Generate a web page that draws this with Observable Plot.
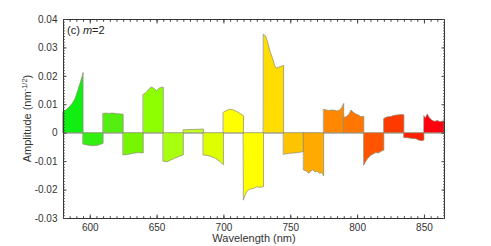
<!DOCTYPE html>
<html><head><meta charset="utf-8">
<script src="https://cdn.jsdelivr.net/npm/d3@7"></script>
<script src="https://cdn.jsdelivr.net/npm/@observablehq/plot@0.6"></script>
<style>
body{margin:0;background:#fff}
svg{font-family:"Liberation Sans",Arial,sans-serif}
</style>
</head><body><div id="chart"></div>
<script>
// Band colours (one per 15 nm band)
const bandColors = ["#11ee11","#33ee11","#55ee11","#77f500","#8eff00","#a8ff10","#c4ff20","#ddff00","#ffff00","#ffff00",
  "#ffdd00","#ffc400","#ffaa00","#ff8800","#ff7700","#ff5500","#ff3a00","#ff2000","#ff0010"];

// Amplitude profiles per band: [wavelength, amplitude]
const band580 = [[580,0.0074],[582,0.0080],[584.5,0.0090],[587,0.0104],[589,0.0120],[591,0.0148],[593,0.0178],[594.5,0.0200],[595,0.0212]];
const band595 = [[595,-0.0040],[598,-0.0043],[602,-0.0046],[606,-0.0044],[610,-0.0037]];
const band610 = [[610,0.0068],[612,0.0069],[614,0.0068],[617,0.0069],[620,0.0067],[623,0.0066],[625,0.0065]];
const band625 = [[625,-0.0078],[628,-0.0077],[632,-0.0073],[636,-0.0070],[639,-0.0071],[640,-0.0071]];
const band640 = [[640,0.0135],[642,0.0141],[644,0.0152],[646,0.0161],[648,0.0156],[650,0.0148],[652,0.0157],[654,0.0160],[655,0.0160]];
const band655 = [[655,-0.0100],[658,-0.0102],[661,-0.0095],[664,-0.0089],[667,-0.0083],[670,-0.0078]];
const band670 = [[670,0.0010],[675,0.0011],[680,0.0012],[685,0.0013]];
const band685 = [[685,-0.0078],[688,-0.0080],[691,-0.0084],[694,-0.0090],[697,-0.0100],[700,-0.0113]];
const band700 = [[700,0.0072],[702,0.0077],[705,0.0083],[708,0.0079],[711,0.0072],[713,0.0066],[715,0.0060]];
const band715 = [[715,-0.0236],[716,-0.0222],[717.5,-0.0207],[719,-0.0200],[721,-0.0197],[723,-0.0195],[725,-0.0190],[727,-0.0192],[730,-0.0190]];
const band730 = [[730,0.0346],[731.5,0.0340],[733,0.0320],[735,0.0284],[736.8,0.0261],[738.3,0.0237],[739.5,0.0227],[741,0.0230],[743,0.0233],[745,0.0237]];
const band745 = [[745,-0.0076],[747,-0.0074],[750,-0.0072],[753,-0.0071],[756,-0.0070],[758,-0.0068],[760,-0.0066]];
const band760 = [[760,-0.0131],[762,-0.0135],[764,-0.0143],[765.5,-0.0134],[767,-0.0130],[768.5,-0.0138],[770,-0.0135],[772,-0.0143],[773.5,-0.0140],[775,-0.0152]];
const band775 = [[775,0.0082],[777,0.0080],[779,0.0078],[781,0.0080],[783,0.0079],[785,0.0076],[787,0.0080],[788.5,0.0088],[790,0.0103]];
const band790 = [[790,0.0054],[792,0.0056],[794,0.0066],[795.5,0.0080],[797,0.0072],[799,0.0066],[801,0.0062],[803,0.0056],[805,0.0058]];
const band805 = [[805,-0.0113],[806.5,-0.0100],[808,-0.0090],[810,-0.0080],[812,-0.0075],[814,-0.0070],[816,-0.0071],[818,-0.0065],[820,-0.0061]];
const band820 = [[820,0.0050],[822,0.0055],[825,0.0057],[828,0.0061],[831,0.0063],[833,0.0064],[835,0.0063]];
const band835 = [[835,-0.0017],[838,-0.0018],[841,-0.0020],[844,-0.0021],[846,-0.0026],[848,-0.0028],[850,-0.0026]];
const band850 = [[850,0.0059],[851,0.0052],[852.5,0.0066],[854,0.0053],[856,0.0044],[858,0.0040],[860,0.0043],[862,0.0039],[865,0.0042]];

const bands = [band580,band595,band610,band625,band640,band655,band670,band685,band700,band715,
  band730,band745,band760,band775,band790,band805,band820,band835,band850];

const xTicks = [600,650,700,750,800,850];
const yTicks = [-0.03,-0.02,-0.01,0,0.01,0.02,0.03,0.04];
const yTickLabels = ["-0.03","-0.02","-0.01","0","0.01","0.02","0.03","0.04"];
const xMinorTicks = d3.range(580, 866, 5);
const yMinorTicks = d3.range(-30, 41).map(d => d / 1000);

const rows = bands.flatMap((b, i) => b.map(([w, v]) => ({w, v, band: i, color: bandColors[i]})));

const tickCol = "#444";
const plot = Plot.plot({
  width: 491, height: 246,
  marginLeft: 63, marginRight: 47, marginTop: 19, marginBottom: 28,
  style: {fontSize: "10px", fontFamily: "Liberation Sans, Arial, sans-serif", color: "#333"},
  x: {domain: [580, 865]},
  y: {domain: [-0.03, 0.04]},
  marks: [
    Plot.ruleY([0], {stroke: "#aaa", strokeWidth: 1}),
    Plot.areaY(rows, {x: "w", y1: 0, y2: "v", z: "band", fill: "color", stroke: "#8a8a70", strokeWidth: 0.7, curve: "linear"}),
    Plot.frame({stroke: "#333", strokeWidth: 1}),
    Plot.axisY({ticks: yTicks, anchor: "left", tickSize: -3.5, tickPadding: 9.5, stroke: tickCol,
      tickFormat: d => yTickLabels[yTicks.findIndex(t => Math.abs(t - d) < 1e-9)], label: null}),
    Plot.axisY({ticks: yMinorTicks, anchor: "left", tickSize: -1.8, tickFormat: () => "", stroke: tickCol, label: null}),
    Plot.axisY({ticks: yTicks, anchor: "right", tickSize: -3.5, tickFormat: () => "", stroke: tickCol, label: null}),
    Plot.axisY({ticks: yMinorTicks, anchor: "right", tickSize: -1.8, tickFormat: () => "", stroke: tickCol, label: null}),
    Plot.axisX({ticks: xTicks, anchor: "bottom", tickSize: -3.5, tickPadding: 8.5, stroke: tickCol,
      tickFormat: d => String(d), label: null}),
    Plot.axisX({ticks: xMinorTicks, anchor: "bottom", tickSize: -1.8, tickFormat: () => "", stroke: tickCol, label: null}),
    Plot.axisX({ticks: xTicks, anchor: "top", tickSize: -3.5, tickFormat: () => "", stroke: tickCol, label: null}),
    Plot.axisX({ticks: xMinorTicks, anchor: "top", tickSize: -1.8, tickFormat: () => "", stroke: tickCol, label: null}),
    Plot.text(["Wavelength (nm)"], {frameAnchor: "bottom", dy: 23, fontSize: 11, fill: "#333"})
  ]
});

const svg = d3.select(plot);
const yl = svg.append("text")
  .attr("transform", "translate(31,118.5) rotate(-90)")
  .attr("text-anchor", "middle").attr("font-size", 11).attr("fill", "#333");
yl.append("tspan").text("Amplitude (nm");
yl.append("tspan").attr("dy", -4.5).attr("font-size", 7.5).text("-1/2");
yl.append("tspan").attr("dy", 4.5).text(")");

const tl = svg.append("text").attr("x", 67).attr("y", 34).attr("text-anchor", "start")
  .attr("font-size", 11).attr("fill", "#222");
tl.append("tspan").text("(c) ");
tl.append("tspan").attr("font-style", "italic").text("m");
tl.append("tspan").text("=2");

document.getElementById("chart").appendChild(plot);
</script>
</body></html>
